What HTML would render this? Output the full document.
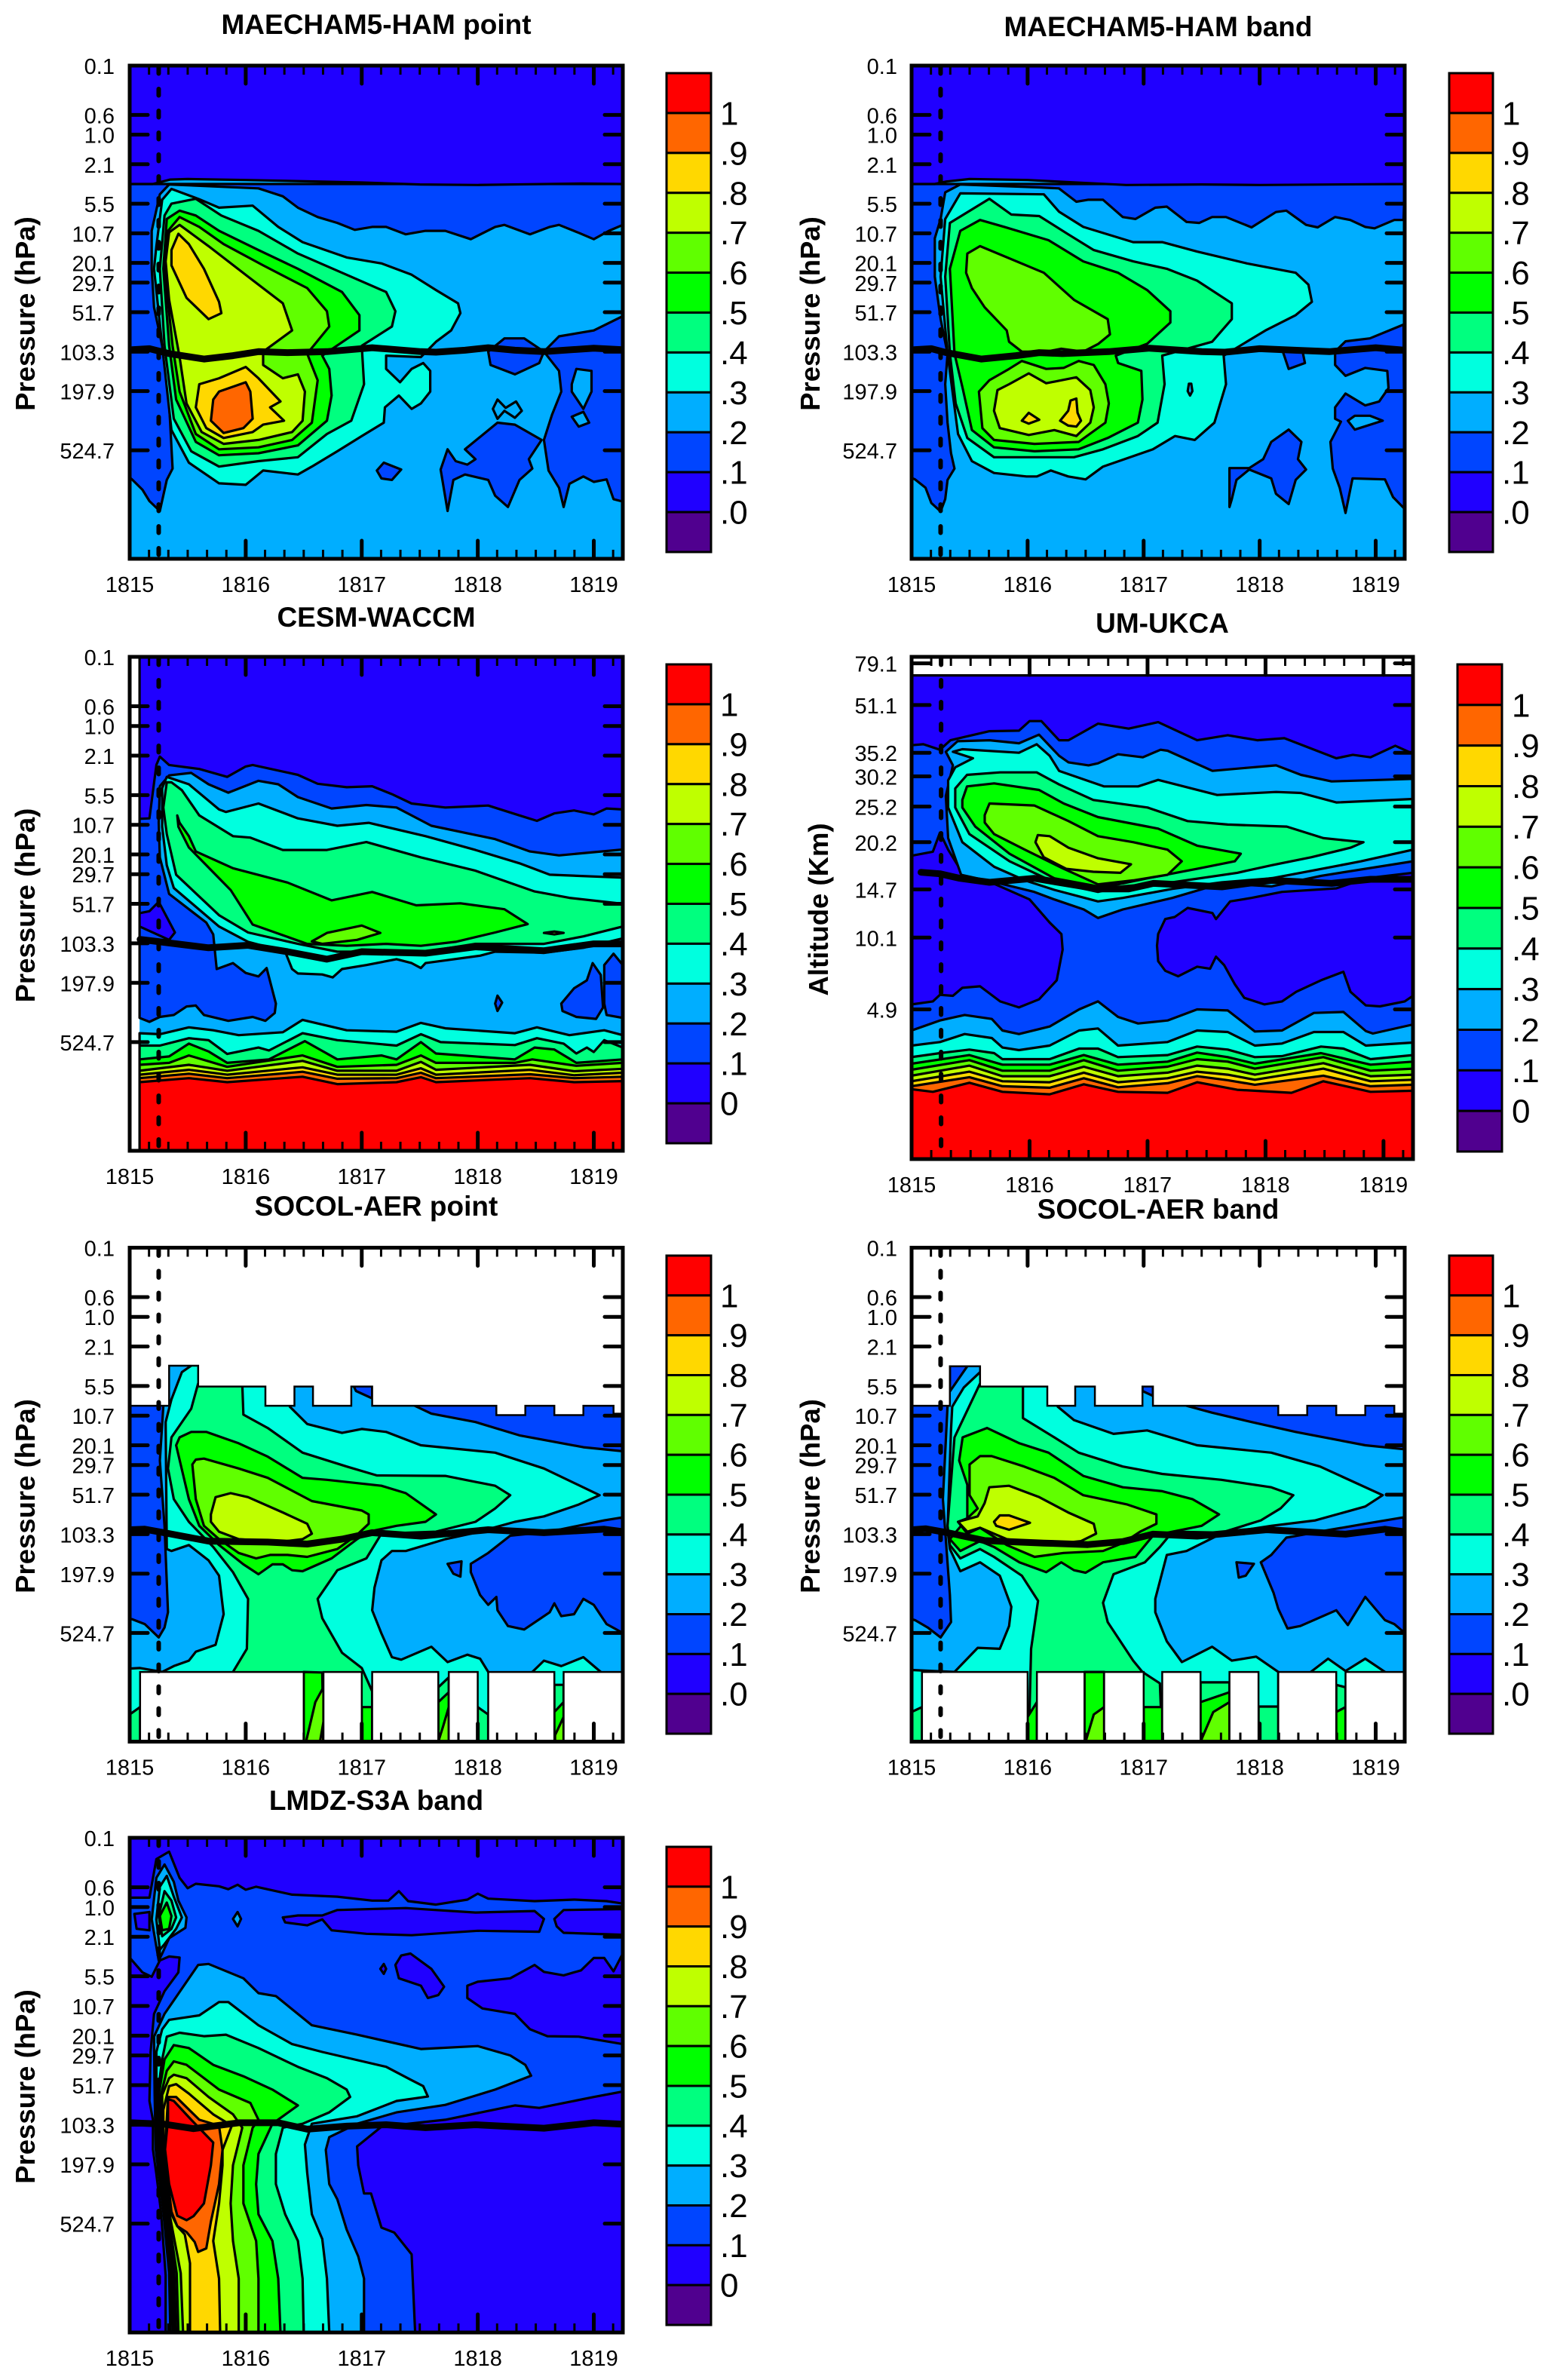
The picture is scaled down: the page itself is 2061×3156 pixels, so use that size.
<!DOCTYPE html>
<html lang="en">
<head>
<meta charset="utf-8">
<title>Aerosol extinction contour panels</title>
<style>
html,body{margin:0;padding:0;background:#fff;}
svg{display:block;font-family:"Liberation Sans",sans-serif;}
</style>
</head>
<body>
<svg id="figure" xmlns="http://www.w3.org/2000/svg" width="2061" height="3156" viewBox="0 0 2061 3156"></svg>
<script>
// x values are years since 1815, y values are model levels (0 = top of axis, 100 = bottom).
// Each band: [contour class, [x, level, x, level, ...]]
const yearLabels = ["1815","1816","1817","1818","1819"];
const pressureLabels = ["0.1","0.6","1.0","2.1","5.5","10.7","20.1","29.7","51.7","103.3","197.9","524.7"];
const pressureLevels = [0,10,14,20,28,34,40,44,50,58,66,78];
const altitudeLabels = ["79.1","51.1","35.2","30.2","25.2","20.2","14.7","10.1","4.9"];
const altitudeLevels = [1.3,9.6,19.1,23.8,29.8,36.9,46.3,55.9,70.2];
const barLabelsDot = ["1",".9",".8",".7",".6",".5",".4",".3",".2",".1",".0"];
const barLabelsZero = ["1",".9",".8",".7",".6",".5",".4",".3",".2",".1","0"];
const eruptionTime = 0.25;

const maechamPointBands = [
[3,[0,0,4.25,0,4.25,100,0,100]],
[2,[0,24,4.25,24,4.25,32.3,4.13,33.5,4,35.2,3.87,33.9,3.7,32.3,3.62,32.7,3.45,34.2,3.23,32.3,3.15,32.7,2.94,35.2,2.72,33.5,2.55,33.5,2.38,34.2,2.21,32.7,2.09,32.7,1.94,33.3,1.79,31.9,1.62,30.7,1.45,28.8,1.32,26.5,1.11,24.9,.34,24.1,.26,26.1,.19,33.5,.19,41.2,.21,49,.28,56.8,.34,68.5,.37,81.7,.32,84,.26,90.3,.17,88.3,.11,86,.02,83.9,0,83.5]],
[2,[4.25,50.8,4,53.7,3.7,54.9,3.57,58,3.7,61.9,3.72,66.1,3.64,70.8,3.57,75.9,3.61,82.1,3.7,85.6,3.74,89.5,3.79,84.8,3.91,83.3,4,84.4,4.11,83.9,4.17,87.9,4.25,88.4]],
[3,[3.81,64.6,3.85,61.5,3.98,61.9,3.98,66.1,3.91,69.6,3.81,66.1]],
[3,[3.81,71.2,3.91,70.2,3.96,72.4,3.87,73.2]],
[2,[3.09,58,3.23,55.3,3.4,55.3,3.57,58,3.53,60.3,3.32,62.6,3.11,60.7]],
[2,[2.74,90.3,2.68,81.9,2.74,77.8,2.81,80.2,2.91,80.9,2.98,79.8,2.89,77.8,3.17,72.4,3.32,72.8,3.55,75.9,3.44,79.8,3.47,81.7,3.36,84,3.26,89.5,3.15,87.2,3.09,84,2.89,82.9,2.79,84]],
[3,[3.13,69.6,3.17,67.7,3.24,69.4,3.33,68.1,3.38,70,3.32,71.4,3.23,70,3.17,71.6]],
[2,[2.13,82.1,2.19,80.5,2.34,81.9,2.26,84,2.17,83.7]],
[1,[0,0,4.25,0,4.25,24,3.9,23.9,3,24.2,2.5,24.1,2,23.7,1,23.2,.5,23,.35,23.1,.2,24,0,24]],
[4,[.21,41.2,.23,36.6,.28,27.2,.36,25,.6,27.1,.77,28.8,1.06,28.4,1.28,32.7,1.49,35.8,1.87,38.9,2.17,40.1,2.43,42.4,2.64,45.5,2.83,48.2,2.85,50.2,2.77,53.7,2.64,56,2.51,59.1,2.21,58.8,2.21,61.5,2.33,64.2,2.43,61.5,2.53,60.3,2.59,61.9,2.59,66.1,2.51,68.5,2.43,69.6,2.32,66.9,2.2,69.3,2.19,72.4,2,75.1,1.79,78.2,1.57,81.3,1.45,82.9,1.15,82.1,1,85,.77,84.7,.51,80.5,.36,73.9,.28,56.8]],
[5,[.26,41.2,.3,30.4,.36,28,.57,27,.79,30.4,1.11,33.5,1.45,38.1,1.83,42,2.21,45.9,2.29,49.8,2.26,52.9,2,56.8,2.02,64.6,1.91,72,1.7,74.7,1.45,79.4,1.11,80.2,.77,81.3,.53,78.2,.38,71.6,.3,56.8]],
[6,[.29,41.2,.32,31.1,.43,29.4,.57,30.4,.77,33.5,1.11,37.4,1.45,41.2,1.83,45.9,1.98,50.6,1.98,53.7,1.66,58.8,1.72,61.5,1.74,66.9,1.7,72,1.45,77,1.11,78.6,.77,79,.57,76.3,.4,67.7,.34,56.8]],
[7,[.3,41.2,.33,33.5,.43,30.7,.6,32.7,.81,36.2,1.15,40.5,1.53,45.1,1.7,49.8,1.72,52.9,1.53,58.4,1.62,63.8,1.57,72.4,1.4,75.9,1.11,77.4,.77,77.8,.57,74.7,.43,66.1,.37,56.8]],
[8,[.31,39.7,.34,33.8,.43,32.3,.68,36.6,1.02,42.8,1.32,48.2,1.4,53.7,1.15,58,1.15,60.7,1.32,63.4,1.45,62.6,1.51,66.1,1.49,72,1.4,74.3,1.11,75.9,.81,76.7,.62,74.3,.49,68.5,.43,59.1,.34,47.5]],
[9,[.36,40.5,.36,37.4,.42,34.1,.51,36.2,.64,41.2,.77,47.9,.79,50.2,.68,51.4,.49,47.1]],
[9,[.57,69.3,.6,64.6,.77,63.4,1,61.1,1.11,63.4,1.3,68.1,1.21,69.3,1.33,72,1.15,72.8,1.06,74.3,.81,75.5,.66,73.5]],
[10,[.7,72,.72,67.7,.77,66.1,1,64.2,1.04,66.1,1.06,71.6,.98,73.5,.81,74.5]]
];
const maechamPointTropopause = [.02,57.6,.17,57.4,.34,58.4,.64,59.5,.89,58.8,1.11,58,1.36,58.2,1.7,58,2.09,57.2,2.51,58,2.64,58.1,2.89,57.7,3.09,57.2,3.32,57.7,3.57,58,4,57.3,4.25,57.6];

const maechamBandBands = [
[3,[0,0,4.25,0,4.25,100,0,100]],
[2,[0,24,4.25,24,4.24,31.3,4.16,31.3,3.99,33,3.91,32.7,3.78,31.3,3.65,30.7,3.5,32.8,3.4,32.3,3.23,29.4,3.14,29.7,2.93,32.8,2.71,30.7,2.59,30.7,2.48,31.9,2.37,31.7,2.2,28.6,2.1,28.8,1.93,31.1,1.82,30.7,1.65,27.2,1.52,27.2,1.42,27.6,1.27,24.9,1.1,24.7,.42,24.1,.29,25.7,.25,31.1,.2,35,.2,42.8,.25,51.4,.31,58.4,.29,64.6,.31,72.4,.34,78.6,.37,81.7,.31,84,.29,87.9,.25,90.4,.17,88.7,.12,85.6,.03,83.9,0,83.6]],
[2,[4.24,52.5,3.95,55.3,3.74,55.9,3.65,58,3.65,60.7,3.74,62.9,3.91,61.3,4.1,61.9,4.11,65.4,4.03,68.1,3.91,68.9,3.74,66.5,3.65,69.3,3.65,71.6,3.7,72.2,3.61,76.3,3.63,81.7,3.69,85.6,3.74,90.7,3.8,83.7,4.08,83.9,4.15,87.5,4.25,89.9]],
[3,[3.76,72,3.82,71,3.95,71,4.06,72,3.82,73.8]],
[2,[3.2,58,3.37,58,3.39,60.3,3.25,61.5]],
[2,[2.74,89.5,2.74,81.6,2.91,81.6,3.03,79.8,3.1,76.3,3.25,73.8,3.36,76.3,3.33,79.8,3.4,81.9,3.31,84,3.25,88.9,3.14,86.8,3.1,83.7,2.91,81.9,2.8,84,2.76,87.9]],
[1,[0,0,4.25,0,4.25,24,3,24.2,2.5,24.1,1.85,24.2,1,23.2,.5,23,.3,23.5,.2,24,0,24]],
[4,[.25,42.8,.29,31.1,.42,25.9,1.14,26.1,1.27,29.6,1.48,32.7,1.91,35.8,2.16,35.8,2.46,37.7,2.89,40.1,3.31,42,3.42,44.4,3.45,47.9,3.31,50.6,3.05,53.7,2.69,58.8,2.71,64.6,2.61,72.4,2.44,75.9,2.27,75.1,2.08,77.8,1.65,81.3,1.5,83.9,1.35,83.3,1.2,82.1,1.08,83.3,.99,83.3,.71,82.6,.52,80.2,.4,74.7,.31,58.4]],
[3,[2.39,64.5,2.41,64.5,2.42,66,2.4,66.9,2.38,66]],
[5,[.29,42.8,.33,31.9,.67,27,.86,30.2,1.1,30.5,1.35,34.2,1.57,37.4,1.91,39.7,2.2,41.2,2.46,43.6,2.76,48.2,2.76,51.4,2.59,56,2.16,58.8,2.18,64.6,2.12,72.4,1.95,75.1,1.65,77.8,1.4,79.4,.71,79.4,.48,75.5,.38,68.5,.33,58.4]],
[6,[.33,41.2,.42,33.5,.59,31.3,.8,32.7,1.18,35.4,1.48,39.7,1.78,42,2.03,45.5,2.23,49.8,2.23,52.1,2.03,56.4,1.76,58.8,1.78,60.3,1.98,61.9,1.99,67.7,1.95,72.4,1.69,75.5,1.44,77.8,1.06,78.2,.71,77.4,.52,73.9,.44,65.4,.37,58.4]],
[7,[.47,42,.48,38.1,.59,36.6,1.14,42,1.4,47.5,1.69,51.4,1.71,54.5,1.61,56.4,1.48,58,1.29,57.4,1.16,58,.95,58,.84,56,.82,53.7,.63,49,.52,45.1]],
[7,[.58,66.1,.67,63.8,.84,61.5,.95,59.9,1.16,61.5,1.31,61.3,1.44,59.9,1.57,60.7,1.67,64.6,1.7,68.5,1.67,72.4,1.44,76.3,1.06,76.7,.71,75.9,.61,73.5]],
[8,[.74,65.8,.84,64.6,1.01,62.4,1.16,64.4,1.42,63.2,1.54,65.8,1.57,69.3,1.54,72.4,1.42,75.1,1.23,73.9,1.01,74.9,.76,73.5,.71,70]],
[9,[.95,72,1.01,70.4,1.1,71.8,1.01,72.6]],
[9,[1.28,72,1.35,70,1.37,67.9,1.42,67.5,1.43,70.4,1.46,72,1.42,73.2,1.35,73]]
];
const maechamBandTropopause = [.02,57.6,.17,57.4,.3,58.2,.6,59.5,.9,58.8,1.1,58.2,1.3,58.4,1.7,58,2.05,57.3,2.5,58,2.7,58.1,3,57.4,3.3,57.7,3.6,58,4,57.2,4.25,57.7];

const cesmWaccmBands = [
[3,[.085,0,4.25,0,4.25,100,.085,100]],
[2,[.085,0,4.25,0,4.25,39,3.7,40.2,3.45,39.4,3.15,36.9,2.6,34.2,2.3,30.5,2.04,30,1.74,30.7,1.45,28.4,1.28,25.8,1.11,25.1,.85,27.5,.68,25.8,.53,23.5,.34,24,.26,26.2,.25,33.6,.26,40.6,.34,48,.66,53.8,.72,56.2,.75,63.2,.89,62,1,64,1.11,64.7,1.18,63,1.26,70.2,1.25,72.1,1.17,73.7,1.06,72.9,.85,73.7,.64,72.5,.57,70.6,.49,70.8,.38,72.5,.26,72.9,.17,73.9,.085,73.1]],
[2,[3.72,70.2,3.83,67.1,3.94,65.5,3.99,62,4.06,64.4,4.08,71,4.02,73.3,3.85,72.9,3.73,71.7]],
[2,[4.09,62.4,4.17,60.1,4.25,62.4,4.25,73.1,4.11,72.5,4.09,70.2]],
[2,[3.15,70.2,3.17,68.6,3.21,70,3.17,71.7]],
[1,[.085,0,4.25,0,4.25,30.9,4.11,30.7,4,31.9,3.83,31.1,3.66,31.7,3.51,33.2,3.36,32.1,3.09,30.1,2.72,30.5,2.43,29.7,2.26,27.8,2.09,26.2,1.87,26.4,1.62,25.7,1.45,23.9,1.06,21.9,1,22.2,.84,24.3,.6,22.7,.34,21.9,.26,20.2,.23,21.9,.17,32.7,.085,32.8]],
[1,[.085,51.9,.17,51.5,.25,49.6,.39,55.8,.34,57.3,.085,54.6]],
[4,[.28,26.6,.32,24.3,.51,25.8,.77,30.9,.83,31.4,1.11,29.7,1.45,32.7,1.79,34.2,2.06,33.6,2.55,36.3,2.98,39.1,3.36,41.8,3.62,44.1,4.25,44.7,4.25,57,3.91,58.9,3.57,59.9,3.15,59.7,3.02,60.5,2.55,62,2.51,63,2.43,62,2.3,61.2,2.04,62.4,1.83,63.2,1.75,64.9,1.66,64.3,1.45,64.1,1.4,63.2,1.34,59.7,1.02,57.7,.77,54.6,.38,46.8,.32,42.2,.28,34.4]],
[5,[.29,30.5,.32,25.4,.36,25.4,.45,27,.6,32.1,.89,36.3,1.04,36.6,1.32,39.1,1.7,39.1,2.04,37.5,2.51,40.6,2.98,43.3,3.49,47.5,3.79,48.8,4.25,50,4.25,54.6,3.91,56.6,3.57,58.1,2.98,58.1,2.55,59.7,1.79,59.7,1.45,58.1,1.02,55.8,.77,52.3,.4,44.1,.32,35.9]],
[6,[.41,32.1,.43,33.6,.51,36.3,.57,39.4,.89,42.8,1.36,45.7,1.74,49.3,2.09,47.6,2.47,50.3,2.85,49.9,3.23,51.1,3.43,54.1,3.15,55.8,2.81,57.7,2.51,58.5,2.21,58.1,1.87,58.5,1.53,58.1,1.06,54.2,.87,47.2,.51,38.6,.42,34.4]],
[7,[1.57,57.6,1.7,55.9,2,54.4,2.16,55.9,1.96,57.3,1.66,58.1]],
[7,[3.57,55.9,3.66,55.6,3.74,55.9,3.66,56.2]],
[4,[.085,76.2,.26,76.4,.51,75,.72,75.6,.94,76.6,1.32,76,1.49,73.5,1.87,75.6,2.3,75.9,2.51,74.1,2.72,75.2,3.32,76.2,3.51,75,3.79,76.6,4.09,75.6,4.25,76.6,4.25,100,.085,100]],
[5,[.085,78.7,.26,78.7,.51,77.2,.68,77.6,.84,80.4,1.11,79.1,1.2,79.7,1.49,76.2,1.79,77.6,2.3,78.7,2.51,76.4,2.68,78,3.32,78.6,3.51,77.2,3.74,78.3,3.85,80.3,3.94,79.1,4,80,4.09,77.6,4.25,79.1,4.25,100,.085,100]],
[6,[.085,81.5,.34,80.9,.51,78.3,.68,79.9,.84,82.2,1.2,81.5,1.51,77.8,1.79,81.5,2.17,80.7,2.3,81.5,2.51,78,2.64,80.3,3.32,81.5,3.49,79.1,3.66,79.5,3.85,82.2,4.25,81.5,4.25,100,.085,100]],
[7,[.085,82.6,.34,82.2,.51,80.7,.84,83,1.49,80.7,1.79,83,2.3,82.6,2.51,80.7,2.64,82.2,3.32,82.2,3.47,81.5,3.85,82.8,4.25,82.2,4.25,100,.085,100]],
[8,[.085,83.8,.51,82.6,.84,83.8,1.49,81.8,1.79,83.8,2.3,83.8,2.51,82,2.64,83.6,3.45,82.6,3.83,83.9,4.25,83.4,4.25,100,.085,100]],
[9,[.085,84.6,.51,83.6,.84,84.6,1.49,83.1,1.79,84.6,2.3,84.6,2.51,83.3,2.64,84.6,3.45,83.6,3.83,84.7,4.25,84.2,4.25,100,.085,100]],
[10,[.085,85.3,.51,84.4,.84,85.3,1.49,84,1.79,85.4,2.3,85.3,2.51,84.2,2.64,85.3,3.45,84.5,3.83,85.3,4.25,85,4.25,100,.085,100]],
[11,[.085,86.1,.51,85.3,.84,86.1,1.49,85,1.79,86.5,2.3,86.1,2.51,85.1,2.64,86.1,3.45,85.3,3.83,86.1,4.25,85.9,4.25,100,.085,100]]
];
const cesmWaccmTropopause = [.09,57.2,.26,57.7,.68,58.9,1.02,58.4,1.36,59.7,1.7,61.2,2,59.7,2.55,60,2.98,58.7,3.57,59.5,4,58.1,4.25,58.1];

const umUkcaBands = [
[2,[0,3.7,4.25,3.7,4.25,100,0,100]],
[1,[0,3.7,4.25,3.7,4.25,19.3,4.1,17.7,3.89,20,3.74,19.5,3.6,20.2,3.16,16.2,2.93,16.6,2.68,15.6,2.42,16.6,2.09,13,1.84,14.3,1.58,13.3,1.33,16.6,1.25,16.6,1.1,12.8,1,12.8,.91,14.7,.66,14.8,.33,16.6,.24,18.5,.1,17.4,0,17.6]],
[1,[0,39.6,.18,38.8,.24,35,.31,38.4,.43,43,.71,45.3,1,48.3,1.17,52.9,1.27,55.2,1.28,58.3,1.23,64.4,1.08,68.2,.91,69.8,.75,68.6,.58,65.6,.43,65.9,.35,67.5,.24,67.3,.18,68.6,0,69.2]],
[1,[2.09,55.2,2.15,52.2,2.23,51.8,2.34,50,2.55,51,2.58,52.2,2.7,48.7,2.88,48,3.14,46.8,3.6,46.1,3.85,44.1,4.25,43,4.25,67.5,4.18,68.6,3.97,69.6,3.85,69.4,3.72,66.7,3.66,62.7,3.47,64.4,3.26,66.7,3.14,68.6,2.99,69.2,2.82,67.9,2.74,65.2,2.65,61.4,2.58,59.7,2.53,62.1,2.42,61.7,2.26,63.6,2.15,62.5,2.09,60.6,2.08,57.5]],
[3,[4.25,40.7,3.47,43.6,3.05,45.7,2.63,45.1,2.21,48,1.79,50.3,1.58,52,1.46,50.3,1.21,48.3,1.04,46.8,.71,44.9,.42,43.4,.31,36.1,.29,27.7,.35,21.6,.29,18.9,.39,16.8,.66,16.6,.91,17.2,1.08,15.5,1.25,19.7,1.33,21,1.5,21.6,1.58,21.2,1.75,19.4,1.96,20,2.11,18.5,2.17,18.7,2.55,22.7,2.84,22.1,3.09,21.6,3.3,23.5,3.56,24.8,3.85,24.6,4.25,24.3]],
[4,[.35,18.9,.43,18.4,.91,19.1,1.06,17.4,1.17,19.7,1.25,22.7,1.63,25.8,1.92,25.8,2.09,24.5,2.59,27.5,3.09,26.9,3.3,27.1,3.6,29,4.25,28.3,4.25,38.4,3.81,40.7,3.39,42.6,3.05,44.1,2.63,44.9,2.21,46.2,1.79,48,1.58,48.7,1.21,46.4,.96,44.5,.7,41.8,.43,36.9,.31,30,.31,24.6,.37,22,.52,20.2]],
[5,[.37,26.2,.47,23.5,.75,23,1.06,23,1.25,25.4,1.54,28.5,2,30,2.34,32.7,2.68,33.4,3.18,33.8,3.49,36.1,3.83,36.9,3.72,38,3.39,39.9,3.05,41.5,2.76,43,2.21,44.9,1.79,45.7,1.58,46.8,1.21,44.9,.83,40.7,.49,35.3,.37,30]],
[6,[.43,28.5,.47,25.8,.7,25.2,1.08,26.5,1.29,29.2,1.58,31.9,2.09,34.2,2.42,37.6,2.79,39.2,2.74,40.7,2.42,42.2,2,44.1,1.75,45.3,1.58,45.7,1.21,44.1,.83,39.2,.54,33.8,.43,30]],
[7,[.62,31.5,.66,29.2,1.04,29.6,1.33,32.7,1.58,35.7,1.88,36.9,2.17,38.4,2.29,40.7,2.17,43.4,1.88,44.5,1.58,45.3,1.29,42.2,.96,38.4,.7,35.3,.62,33]],
[8,[1.05,36.9,1.07,35.5,1.17,35.7,1.33,38,1.58,40.1,1.86,41.3,1.77,43,1.54,42.8,1.31,42.2,1.12,39.9]],
[3,[0,74.4,.24,72.4,.45,71.3,.68,72.1,.77,74.4,.91,75.1,1.17,73.6,1.42,70.2,1.58,68.6,1.75,71.7,1.92,73,2.17,72.4,2.42,70.2,2.68,70.4,2.91,74.6,3.14,74.4,3.41,70.9,3.66,70.7,3.85,74.5,3.91,75,4.25,73.2,4.25,100,0,100]],
[4,[0,77.4,.24,76.7,.45,75.1,.68,75.9,.77,77.8,.91,78.3,1.17,77.4,1.42,74.4,1.58,74,1.75,77.4,2.17,76.7,2.42,74.4,2.68,74.7,2.91,77.4,3.14,77,3.41,74.7,3.66,74.7,3.85,77.4,4.25,76.8,4.25,100,0,100]],
[5,[0,79.7,.24,78.9,.49,78.2,.7,78.9,.77,80.1,1.17,80.1,1.42,78,1.58,78,1.75,79.7,2.17,79.3,2.42,77.6,2.68,78.2,2.91,79.7,3.14,79.5,3.47,77.6,3.66,78,3.89,80.1,4.25,79.3,4.25,100,0,100]],
[6,[0,81,.49,79.3,.77,81.2,1.17,81.2,1.46,79.3,1.75,81.2,2.17,80.6,2.42,78.8,2.68,79.7,2.91,81,3.47,78.9,3.89,81.2,4.25,80.6,4.25,100,0,100]],
[7,[0,82.2,.49,80.3,.77,82.4,1.17,82.4,1.46,80.3,1.75,82.4,2.17,81.6,2.42,80.1,2.68,80.6,2.91,82,3.49,79.7,3.89,82.4,4.25,82,4.25,100,0,100]],
[8,[0,83.4,.49,81.4,.77,83.5,1.17,83.5,1.46,81.6,1.75,83.5,2.17,82.8,2.42,81.4,2.68,82,2.91,83.2,3.49,80.9,3.89,83.5,4.25,83.2,4.25,100,0,100]],
[9,[0,84.5,.49,82.6,.77,84.5,1.17,84.7,1.46,82.8,1.75,84.7,2.17,83.9,2.42,82.6,2.68,83.2,2.91,84.2,3.49,82,3.89,84.5,4.25,84.2,4.25,100,0,100]],
[10,[0,85.5,.49,83.7,.77,85.5,1.17,85.8,1.46,83.9,1.75,85.7,2.17,84.9,2.42,83.5,2.68,84.3,2.91,85.2,3.49,83.4,3.89,85.5,4.25,85.2,4.25,100,0,100]],
[11,[0,86.1,.18,86.6,.49,84.8,.77,86.6,1.17,87.1,1.46,85.1,1.75,86.6,2.17,86.8,2.42,84.7,2.76,86.2,3.22,86.8,3.49,84.5,3.89,86.6,4.25,86.4,4.25,100,0,100]]
];
const umUkcaTropopause = [.08,42.9,.24,43.2,.41,44.1,.66,44.9,1.04,44.1,1.58,46.2,1.84,46.2,2.05,45.1,2.63,45.8,3.05,44.5,3.56,45.1,3.89,44.3,4.25,44.3];

const socolPointBands = [
[3,[0,0,4.25,0,4.25,100,0,100]],
[2,[.29,20,.29,32.2,.26,43.1,.3,56.3,.33,73.8,.3,76.9,.25,78.9,.13,76.2,.02,75.2,0,75.2,0,20]],
[2,[2.34,30.7,2.6,33.6,2.98,35.3,3.36,38,3.91,40.4,4.25,41.2,4.25,20,2.34,20]],
[2,[3.62,57.5,4.09,55.2,4.25,54.6,4.25,78,4.11,76.2,4,72.3,3.91,71.1,3.83,74.2,3.72,74.6,3.66,72,3.62,73.8,3.4,77.3,3.26,76.6,3.17,73.4,3.16,70.7,3.09,72.3,3.02,70.3,2.94,65.7,2.94,64,3.09,61.8,3.28,58.3]],
[2,[2.74,64,2.86,63.5,2.85,66.6,2.79,66]],
[2,[1.91,27,2.09,27,2.09,30.5,1.95,29]],
[4,[.32,61,.31,35.3,.36,30.7,.45,25.2,.59,22.9,1.38,22.9,1.38,32.2,1.53,35.7,1.83,37.5,2,36.7,2.21,37.3,2.51,40,3.15,41.5,3.57,44.7,4.05,50.1,3.87,52,3.57,54.4,3.32,55.5,2.98,57.7,2.72,59,2.38,61.4,2.26,61.4,2.17,63.3,2.11,68.8,2.09,73.4,2.17,78.1,2.26,82.9,2.34,83.4,2.6,80.8,2.74,83.9,2.91,82.4,3.02,83.2,3.09,85.9,3.15,91,3.15,100,0,100,0,85.2,.09,85.1,.28,85.9,.38,84.7,.51,83.6,.57,81.8,.74,80.4,.81,74.2,.77,66.4,.68,63.3,.51,60.2,.36,61.4]],
[4,[3.47,85.9,3.57,83.6,3.72,84.7,3.91,82.9,4.06,85.9,4.25,100,3.4,100]],
[5,[.33,44.7,.36,38.4,.53,32.6,.59,27.5,.97,27.5,.98,33.8,1.19,36.5,1.49,41.5,1.87,44.3,2.13,46.1,2.72,46.2,3.15,48.2,3.28,50.1,3.15,52.8,2.98,55.5,2.64,57.5,2.17,57.9,2.04,62.9,1.79,65.3,1.62,71.1,1.66,75,1.83,82,2,85.1,2.09,89.8,2.09,100,.89,100,.89,85.9,1.01,81.2,1.02,71.1,.89,65.7,.72,60.6,.51,55.5,.38,50.9]],
[5,[2.66,89,2.75,87,2.75,100,2.66,100]],
[5,[3,93,3.09,94.5,3.09,100,3,100]],
[5,[3.66,88.5,3.74,88.5,3.74,100,3.66,100]],
[5,[0,94.5,.09,93,.09,100,0,100]],
[6,[.4,40,.43,38.4,.53,37.3,.66,37.3,.94,39.6,1.19,42.3,1.49,46.6,1.7,47,2.17,48.2,2.38,49.7,2.64,54,2.55,55.5,2.3,56.3,2.06,57.5,1.96,59,1.74,62.9,1.49,65.5,1.4,65.3,1.32,64.1,1.23,64.1,1.11,66.1,.98,64.1,.77,60.2,.6,56.3,.51,50.9]],
[6,[1.5,85.9,1.66,86,1.67,100,1.5,100]],
[6,[2,93,2.09,93,2.09,100,2,100]],
[6,[2.66,92,2.75,90,2.75,100,2.66,100]],
[6,[3.66,94,3.74,92,3.74,100,3.66,100]],
[7,[.54,43.9,.57,42.9,.64,42.7,.94,44.7,1.19,46.6,1.57,51.3,2,53.2,2.06,54,2.06,55.9,1.96,58.1,1.79,61,1.53,62.6,1.36,62.2,1.21,62.2,1.09,62.9,.94,61.8,.77,59,.64,56.3,.57,50.9]],
[7,[1.52,100,1.6,92,1.67,89,1.67,100]],
[7,[2.66,100,2.7,97,2.75,93,2.75,100]],
[7,[3.66,99,3.74,95,3.74,100,3.66,100]],
[8,[.7,54,.74,50.5,.87,49.7,1.02,50.5,1.32,53.6,1.53,55.9,1.57,57.9,1.49,59,1.28,59.6,.94,59,.77,57.5,.7,55.5]],
[8,[1.64,100,1.67,96,1.67,100]]
];
const socolPointMissing = [
[0,0,4.25,0,4.25,33.6,4.17,33.6,4.17,32,3.91,32,3.91,33.9,3.66,33.9,3.66,32,3.41,32,3.41,33.9,3.16,33.9,3.16,32,2.09,32,2.09,28.1,1.91,28.1,1.91,32,1.58,32,1.58,28.1,1.42,28.1,1.42,32,1.17,32,1.17,28.1,.59,28.1,.59,23.9,.34,23.9,.34,32,0,32],
[.09,85.9,1.5,85.9,1.5,100,.09,100],
[1.67,85.9,2,85.9,2,100,1.67,100],
[2.09,85.9,2.66,85.9,2.66,100,2.09,100],
[2.75,85.9,3,85.9,3,100,2.75,100],
[3.09,85.9,3.66,85.9,3.66,100,3.09,100],
[3.74,85.9,4.25,85.9,4.25,100,3.74,100]
];
const socolPointTropopause = [.01,57.1,.13,57,.34,57.9,.68,59.4,1.19,59.6,1.53,60,1.83,59,2.09,57.7,2.51,58.4,3.09,57.1,3.57,57.7,4.09,57,4.25,57.5];

const socolBandBands = [
[3,[0,0,4.25,0,4.25,100,0,100]],
[2,[.31,20,.31,32,.27,50.9,.33,70.3,.34,75.8,.25,78.9,.14,76.9,.03,75.4,0,75.2,0,20]],
[2,[.33,29.1,.48,24,.33,23.6]],
[2,[2.37,32,2.59,33.4,2.93,35.3,3.31,37.3,3.91,40,4.24,40.8,4.25,20,2.3,20]],
[2,[3.61,57.1,3.91,55.9,4.24,54.6,4.25,78,4.16,76.2,4.08,75.4,3.91,70.7,3.76,76.4,3.66,73.4,3.35,76.6,3.24,77.1,3.16,73.1,3.12,69.9,3.01,63.7,3.1,62.2,3.23,58.7]],
[2,[2.8,63.7,2.95,64,2.88,66.4,2.82,66.8]],
[2,[1.99,27,2.08,27,2.08,30,1.99,29]],
[4,[.31,57.1,.34,36.9,.35,32.2,.45,28.3,.59,25.2,1.16,25.2,1.26,32.2,1.4,34.9,1.74,37.7,2.03,37,2.46,40,3.1,41.5,3.52,44.3,4.06,50.1,3.91,52.4,3.48,55.2,3.1,56.3,2.67,57.9,2.37,61.4,2.2,62.2,2.1,71.1,2.1,73.8,2.2,79.7,2.33,83.9,2.59,80.8,2.76,83.6,2.97,82.8,3.16,85.9,3.16,100,0,100,0,85.5,.37,85.9,.57,81,.76,81.2,.84,76.6,.86,72.7,.76,66.4,.59,63.7,.42,65.5,.33,61]],
[4,[3.44,85.9,3.59,83.2,3.74,85.7,3.91,83.2,4.08,85.9,4.25,100,3.3,100]],
[5,[.31,56.3,.37,38.4,.59,27.5,.96,27.5,.96,34.5,1.23,38.4,1.44,41.5,1.82,44.3,2.16,45.8,2.67,47,3.1,48.5,3.29,50.1,3.18,52.8,3.01,55.2,2.67,57.7,2.25,57.5,2.14,60.6,2.01,63.7,1.74,66.1,1.65,71.9,1.69,75.8,1.91,83.6,1.99,85.9,2.14,88.2,2.16,100,1.01,100,1.03,81.2,1.09,71.5,.95,66.4,.71,62.6,.59,61,.42,62.9,.33,60.2]],
[5,[2.49,88,2.74,88,2.74,100,2.49,100]],
[5,[2.99,92.9,3.16,92.9,3.16,100,2.99,100]],
[5,[3.66,88.5,3.74,89,3.74,100,3.66,100]],
[5,[0,94,.09,93,.09,100,0,100]],
[6,[.41,43.1,.44,38.4,.65,36.5,.93,39.6,1.18,41.5,1.48,46.2,1.82,48.5,2.16,49.3,2.42,50.9,2.65,54,2.5,56.3,2.25,57.5,2.08,58.3,1.93,62.6,1.65,63.7,1.5,65.8,1.4,65.3,1.29,63.7,1.16,65.7,.93,63.7,.71,60.6,.59,59.4,.42,61.4,.33,59,.48,54.8,.48,48]],
[6,[1.49,85.9,1.66,85.9,1.66,100,1.49,100]],
[6,[2,93,2.16,93,2.16,100,2,100]],
[6,[2.49,92,2.74,90,2.74,100,2.49,100]],
[6,[3.66,94,3.74,93,3.74,100,3.66,100]],
[6,[1,95,1.08,92,1.08,100,1,100]],
[7,[.5,50.1,.5,43.9,.59,42.2,.69,42.2,.97,44.3,1.23,46.6,1.48,50.1,1.86,52,2.11,54,2.11,55.9,1.97,57.5,1.82,59.8,1.65,61.4,1.31,61.8,1.06,62.6,.82,60.2,.59,56.7,.48,57.9,.4,55.5,.48,54.8,.57,52.8]],
[7,[1.5,100,1.57,94.5,1.66,93,1.66,100]],
[7,[2.49,100,2.6,94,2.74,92,2.74,100]],
[8,[.63,51.7,.67,48.5,.84,48.2,1.1,50.5,1.35,53.6,1.57,55.9,1.59,57.9,1.46,59.4,1.14,60.2,.82,59,.59,56.7,.48,57.5,.4,55.5,.57,54.4]],
[9,[.71,55.5,.76,54.2,.84,54.2,1.02,55.7,.84,57.1,.73,56.3]]
];
const socolBandMissing = [
[0,0,4.25,0,4.25,33.6,4.16,33.6,4.16,32,3.91,32,3.91,33.9,3.66,33.9,3.66,32,3.41,32,3.41,33.9,3.16,33.9,3.16,32,2.08,32,2.08,28.1,1.99,28.1,1.99,32,1.58,32,1.58,28.1,1.41,28.1,1.41,32,1.17,32,1.17,28.1,.59,28.1,.59,24,.33,24,.33,32,0,32],
[.09,85.9,1,85.9,1,100,.09,100],
[1.08,85.9,1.49,85.9,1.49,100,1.08,100],
[1.66,85.9,2,85.9,2,100,1.66,100],
[2.16,85.9,2.49,85.9,2.49,100,2.16,100],
[2.74,85.9,2.99,85.9,2.99,100,2.74,100],
[3.16,85.9,3.66,85.9,3.66,100,3.16,100],
[3.74,85.9,4.25,85.9,4.25,100,3.74,100]
];
const socolBandTropopause = [.01,57.1,.12,56.9,.31,57.7,.63,59.3,1.14,59.8,1.52,60.1,1.82,59.5,2.08,58,2.46,58.4,3.06,57.1,3.52,57.7,3.74,58,4.08,57,4.24,57.5];

const lmdzBands = [
[1,[0,0,4.25,0,4.25,100,0,100]],
[2,[0,12.1,.17,12.1,.23,4.3,.34,2.8,.43,8.1,.5,10.2,.57,9.3,.77,9.8,.85,10.4,.93,9.5,1,10.5,1.09,9.9,1.4,11.5,1.79,11.9,2.09,12.7,2.23,12.7,2.32,10.8,2.4,12.8,2.64,13.5,2.91,12.5,3,11.3,3.09,12.3,3.49,12.8,3.83,12.5,4.11,12.8,4.25,13.3,4.25,51.3,4,52.4,3.53,54.6,3.32,54.1,2.72,57,2.17,58.4,1.96,62.4,1.97,66.2,2.02,71.9,2.08,71.9,2.17,78.8,2.28,79.8,2.43,84.2,2.46,100,.31,100,.31,88.4,.27,75.6,.23,68,.2,63,.2,57,.17,53.2,.18,43.3,.21,35.6,.3,31,.42,27.2,.43,24.2,.34,24,.26,24.8,.19,28.1,.11,27.2,.01,24.5,0,24.5]],
[1,[.04,15.4,.17,15,.17,18.7,.06,18.4]],
[1,[1.32,16.1,1.45,15.7,1.66,15.7,1.79,14.6,2.38,14.2,2.98,15.1,3.49,14.8,3.57,16.4,3.53,19,3,18.8,2.43,19.7,2.04,19.4,1.74,18.7,1.66,16.5,1.53,17.7,1.34,17.1]],
[1,[3.66,16.4,3.74,14.6,4.25,14.4,4.25,19.6,3.74,19.2,3.68,17.9]],
[1,[2.29,25.7,2.34,23.8,2.42,23.4,2.6,26.5,2.71,30.1,2.66,31.8,2.57,32.4,2.51,29.9,2.32,28.4]],
[1,[2.91,29.9,3,29.1,3.28,28.4,3.49,25.7,3.57,27.1,3.74,27.8,3.89,26.8,4,24.3,4.09,24.3,4.17,27,4.25,23.4,4.25,41.7,3.87,40.2,3.6,40.1,3.45,38.7,3.32,35.6,3.04,34.5,2.91,32.4]],
[1,[2.16,26.5,2.19,25.5,2.21,26.5,2.19,27.5]],
[3,[.89,16.4,.93,15,.96,16.4,.93,17.9]],
[3,[.25,24.8,.19,16.5,.23,8.1,.3,5.4,.38,8.9,.42,12.7,.49,16.1,.48,18.2,.34,20.3,.28,23.4]],
[4,[.23,16.5,.26,9.9,.32,7.7,.38,11.9,.45,16.1,.4,18.4,.3,21.5,.26,22.6]],
[5,[.25,15.8,.3,10.8,.36,12.7,.4,16.1,.36,18.4,.28,19.9]],
[6,[.26,15.8,.32,13.1,.36,15.8,.34,18.4,.28,18.7]],
[3,[.21,40.2,.3,35.6,.59,25.7,.68,25.5,.98,28.4,1.11,31.4,1.26,32,1.57,37.9,1.96,39.8,2.51,42.7,3,42.1,3.28,44,3.41,45.9,3.46,48.1,3.15,50.9,2.72,54,2.3,55.5,1.96,57.8,1.72,60.5,1.69,63.1,1.72,70,1.79,73.1,1.87,79.2,1.97,84.6,2.02,89.1,2.02,100,.35,100,.34,88,.29,75.6,.225,63,.215,52]],
[4,[.23,43.3,.28,38.7,.34,36.8,.6,35.9,.77,33.2,.85,33.2,1.11,37.9,1.4,41.7,1.66,43.3,2.21,46.3,2.43,49,2.53,50.2,2.57,52.3,2.3,53.2,1.96,56.3,1.57,57.8,1.51,62,1.53,67.7,1.57,76.1,1.66,81.1,1.7,89.1,1.72,100,.37,100,.355,88,.3,75.6,.24,63,.23,52]],
[5,[.28,44.8,.32,40.2,.43,39.4,.64,40.1,.83,39.8,1.11,42.5,1.45,46.3,1.7,48.6,1.87,50.9,1.9,52.4,1.72,55.5,1.49,57.8,1.32,58.6,1.26,63.9,1.26,70,1.34,76.1,1.45,81.5,1.49,89.1,1.5,100,.385,100,.37,88,.31,75.6,.25,63,.24,52]],
[6,[.3,44.8,.38,41.9,.51,42.5,.72,45.9,.98,48.2,1.23,50.9,1.45,54.1,1.32,56.3,1.23,57.8,1.11,63.9,1.09,70,1.11,76.1,1.23,81.5,1.28,89.1,1.3,100,.4,100,.385,88,.32,75.6,.26,63,.25,52]],
[7,[.32,47.1,.38,45.2,.49,45.9,.77,50.9,1.04,53.6,1.11,57,1.06,58.6,.98,66.2,.98,73.9,1.09,81.5,1.11,89.1,1.11,100,.42,100,.405,88,.33,75.6,.27,63,.27,52]],
[8,[.34,48.6,.38,47.9,.49,48.6,.68,52.4,.89,55.9,.97,58.6,.89,66.2,.87,73.9,.89,81.5,.94,89.1,.94,100,.46,100,.44,88,.34,75.6,.28,63,.28,52]],
[9,[.34,50.2,.4,49.8,.51,51.7,.72,55.9,.88,58.2,.8,63.1,.8,66.2,.77,73.9,.72,81.5,.77,89.1,.78,100,.52,100,.52,86,.475,80.2,.41,78.5,.35,75.6,.29,63,.29,55]],
[10,[.33,52.4,.4,52.4,.6,57,.77,58.2,.8,63.1,.77,70,.7,77.6,.66,83,.59,83.7,.56,81.7,.49,79.7,.41,78.5,.36,75.6,.3,63,.32,57]],
[11,[.33,52.8,.38,53.2,.53,57,.72,61.6,.7,66.2,.64,73.9,.55,76.5,.49,77.3,.41,76.4,.34,70,.305,63,.33,57]]
];
const lmdzTropopause = [.01,57.6,.3,57.9,.55,58.8,.94,57.6,1.28,57.6,1.53,58.9,1.87,58.3,2.21,58,2.55,58.6,2.98,58,3.57,58.7,4,57.6,4.25,57.9];

// ---- layout and styling (not data) ----
const palette = ["#50008f","#2000ff","#0045ff","#00aeff","#00ffdf","#00ff7f","#00ff00","#60ff00","#bfff00","#ffd800","#ff6600","#ff0000"];
const panels = [
 {key:"maecham-point",title:"MAECHAM5-HAM point",x:172,y:87,w:654,h:654,titleY:45,bandData:maechamPointBands,tropo:maechamPointTropopause,missing:[],yLabels:pressureLabels,yLevels:pressureLevels,yTitle:"Pressure (hPa)",yTitleX:46,labelX:152,barX:884,barY:97,barW:59,barH:635,barText:barLabelsDot,barTextX:955},
 {key:"maecham-band",title:"MAECHAM5-HAM band",x:1209,y:87,w:654,h:654,titleY:48,bandData:maechamBandBands,tropo:maechamBandTropopause,missing:[],yLabels:pressureLabels,yLevels:pressureLevels,yTitle:"Pressure (hPa)",yTitleX:1087,labelX:1190,barX:1922,barY:97,barW:58,barH:635,barText:barLabelsDot,barTextX:1992},
 {key:"cesm-waccm",title:"CESM-WACCM",x:172,y:871,w:654,h:655,titleY:831,bandData:cesmWaccmBands,tropo:cesmWaccmTropopause,missing:[],yLabels:pressureLabels,yLevels:pressureLevels,yTitle:"Pressure (hPa)",yTitleX:46,labelX:152,barX:884,barY:881,barW:59,barH:635,barText:barLabelsZero,barTextX:955},
 {key:"um-ukca",title:"UM-UKCA",x:1209,y:871,w:665,h:666,titleY:839,bandData:umUkcaBands,tropo:umUkcaTropopause,missing:[],yLabels:altitudeLabels,yLevels:altitudeLevels,yTitle:"Altitude (Km)",yTitleX:1098,labelX:1190,barX:1933,barY:881,barW:59,barH:646,barText:barLabelsZero,barTextX:2005},
 {key:"socol-point",title:"SOCOL-AER point",x:172,y:1654.5,w:654,h:655,titleY:1612,bandData:socolPointBands,tropo:socolPointTropopause,missing:socolPointMissing,yLabels:pressureLabels,yLevels:pressureLevels,yTitle:"Pressure (hPa)",yTitleX:46,labelX:152,barX:884,barY:1665,barW:59,barH:634,barText:barLabelsDot,barTextX:955},
 {key:"socol-band",title:"SOCOL-AER band",x:1209,y:1654.5,w:654,h:655,titleY:1616,bandData:socolBandBands,tropo:socolBandTropopause,missing:socolBandMissing,yLabels:pressureLabels,yLevels:pressureLevels,yTitle:"Pressure (hPa)",yTitleX:1087,labelX:1190,barX:1922,barY:1665,barW:58,barH:634,barText:barLabelsDot,barTextX:1992},
 {key:"lmdz-band",title:"LMDZ-S3A band",x:172,y:2437,w:654,h:656,titleY:2400,bandData:lmdzBands,tropo:lmdzTropopause,missing:[],yLabels:pressureLabels,yLevels:pressureLevels,yTitle:"Pressure (hPa)",yTitleX:46,labelX:152,barX:884,barY:2449,barW:59,barH:634,barText:barLabelsZero,barTextX:955}
];
const X_SPAN = 4.25, LEVEL_SPAN = 100;
const svgNS = "http://www.w3.org/2000/svg";
const root = document.getElementById("figure");

function make(parent, tag, attrs, text) {
  const node = document.createElementNS(svgNS, tag);
  for (const k in attrs) node.setAttribute(k, attrs[k]);
  if (text !== undefined) node.textContent = text;
  parent.appendChild(node);
  return node;
}
function xAxis(p, t) { return p.x + t / X_SPAN * p.w; }
function yAxis(p, level) { return p.y + level / LEVEL_SPAN * p.h; }
function tracePath(p, pairs, close) {
  let d = "";
  for (let i = 0; i < pairs.length; i += 2) {
    d += (i ? "L" : "M") + xAxis(p, pairs[i]).toFixed(1) + " " + yAxis(p, pairs[i + 1]).toFixed(1);
  }
  return d + (close ? "Z" : "");
}

panels.forEach(function (p, idx) {
  const g = make(root, "g", {});
  
  

  const title = make(g, "text", {x: p.x + p.w / 2, y: p.titleY, "text-anchor": "middle", "font-size": 37, "font-weight": "bold", fill: "#000"}, p.title);
  
  

  const clipId = "clip" + idx;
  const clip = make(g, "clipPath", {id: clipId});
  make(clip, "rect", {x: p.x, y: p.y, width: p.w, height: p.h});

  const plot = make(g, "g", {"clip-path": "url(#" + clipId + ")"});
  
  

  p.bandData.forEach(function (band, bi) {
    const isBase = bi === 0;
    const path = make(plot, "path", {
      d: tracePath(p, band[1], true),
      fill: palette[band[0]],
      stroke: isBase ? "none" : "#000",
      "stroke-width": 3.2,
      "stroke-linejoin": "round"
    });
    
    
  });

  p.missing.forEach(function (poly) {
    const mask = make(plot, "path", {d: tracePath(p, poly, true), fill: "#fff", stroke: "#000", "stroke-width": 2.5, "stroke-linejoin": "miter"});
    
    
  });

  const tropo = make(plot, "path", {d: tracePath(p, p.tropo, false), fill: "none", stroke: "#000", "stroke-width": 9, "stroke-linejoin": "round", "stroke-linecap": "round"});
  
  

  const dash = make(plot, "line", {x1: xAxis(p, eruptionTime), x2: xAxis(p, eruptionTime), y1: yAxis(p, 0) + 2, y2: yAxis(p, LEVEL_SPAN), stroke: "#000", "stroke-width": 6, "stroke-linecap": "round", "stroke-dasharray": "8.5 20.5"});
  
  

  // x ticks: major each year, minor every two months
  for (let m = 0; m <= 25; m++) {
    const t = m / 6;
    if (t > X_SPAN) break;
    const major = m % 6 === 0;
    const len = major ? 24 : 12;
    const w = major ? 5 : 3;
    [[p.y, p.y + len], [p.y + p.h, p.y + p.h - len]].forEach(function (ends) {
      const tick = make(g, "line", {x1: xAxis(p, t), x2: xAxis(p, t), y1: ends[0], y2: ends[1], stroke: "#000", "stroke-width": w, "stroke-linecap": major ? "round" : "butt"});
      
      
    });
  }
  yearLabels.forEach(function (label, i) {
    const txt = make(g, "text", {x: xAxis(p, i), y: p.y + p.h + 44, "text-anchor": "middle", "font-size": 29, fill: "#000"}, label);
    
    
  });

  // y ticks
  p.yLevels.forEach(function (level, i) {
    const yy = yAxis(p, level);
    if (level > 0) {
      [[p.x, p.x + 24], [p.x + p.w, p.x + p.w - 24]].forEach(function (ends) {
        const tick = make(g, "line", {x1: ends[0], x2: ends[1], y1: yy, y2: yy, stroke: "#000", "stroke-width": 5, "stroke-linecap": "round"});
        
        
      });
    }
    const lab = make(g, "text", {x: p.labelX, y: yy + 11, "text-anchor": "end", "font-size": 29, fill: "#000"}, p.yLabels[i]);
    
    
  });

  const frame = make(g, "rect", {x: p.x, y: p.y, width: p.w, height: p.h, fill: "none", stroke: "#000", "stroke-width": 5});
  
  

  const yMid = p.y + p.h / 2 + 2;
  const yTitle = make(g, "text", {x: 0, y: 0, transform: "translate(" + p.yTitleX + " " + yMid + ") rotate(-90)", "text-anchor": "middle", "font-size": 36.5, "font-weight": "bold", fill: "#000"}, p.yTitle);
  
  

  // colour bar
  const bar = make(g, "g", {});
  
  
  const boxH = p.barH / 12;
  for (let c = 0; c < 12; c++) {
    const box = make(bar, "rect", {x: p.barX, y: p.barY + c * boxH, width: p.barW, height: boxH, fill: palette[11 - c], stroke: "#000", "stroke-width": 3});
    
    
  }
  p.barText.forEach(function (label, i) {
    const txt = make(bar, "text", {x: p.barTextX, y: p.barY + (i + 1) * boxH + 15.5, "font-size": 44, fill: "#000"}, label);
    
    
  });
});
</script>
</body>
</html>
